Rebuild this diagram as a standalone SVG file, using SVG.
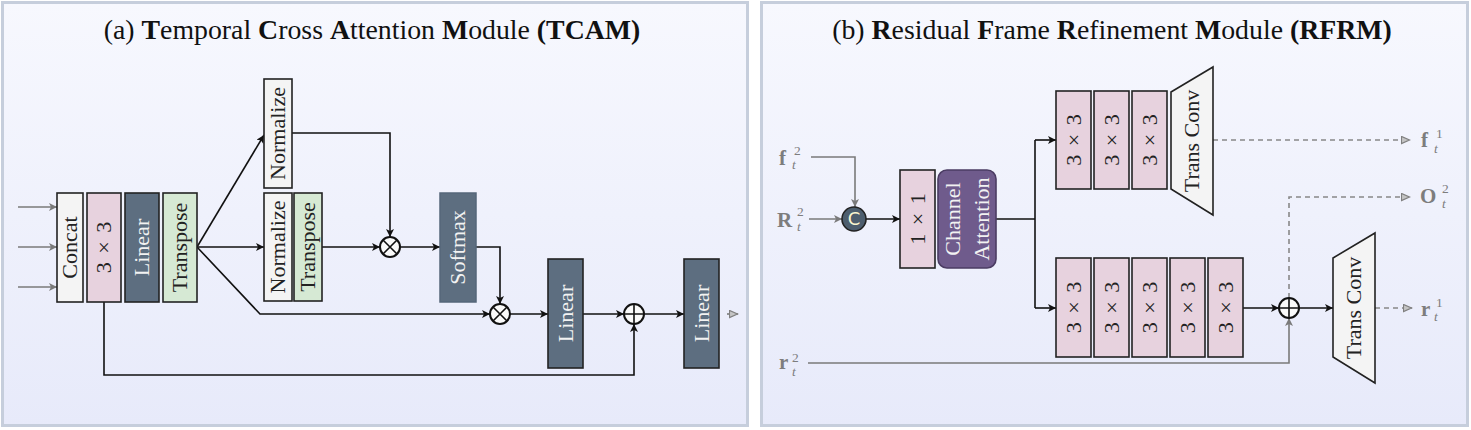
<svg xmlns="http://www.w3.org/2000/svg" width="1471" height="430" viewBox="0 0 1471 430">
<defs>
<linearGradient id="bg" x1="0" y1="0" x2="0" y2="1">
<stop offset="0" stop-color="#f7f8fe"/>
<stop offset="1" stop-color="#e7eafa"/>
</linearGradient>
<marker id="ah" viewBox="0 0 10 10" refX="10" refY="5" markerWidth="10" markerHeight="8" markerUnits="userSpaceOnUse" orient="auto">
<path d="M0,0 L10,5 L0,10 L2.5,5 z" fill="#111"/>
</marker>
<marker id="ahg" viewBox="0 0 10 10" refX="10" refY="5" markerWidth="10" markerHeight="8" markerUnits="userSpaceOnUse" orient="auto">
<path d="M0,0 L10,5 L0,10 L2.5,5 z" fill="#7a7a7a"/>
</marker>
<marker id="ahd" viewBox="0 0 10 10" refX="10" refY="5" markerWidth="10" markerHeight="9" markerUnits="userSpaceOnUse" orient="auto">
<path d="M0.5,1 L9.5,5 L0.5,9 z" fill="#c4c4c4" stroke="#808080" stroke-width="1.3"/>
</marker>
<style>
.panel{fill:url(#bg);stroke:#c6cedc;stroke-width:3}
.title{font-family:"Liberation Serif",serif;font-size:27.8px;fill:#111;text-anchor:middle}
.b{font-weight:bold}
.box{stroke:#222;stroke-width:1.6}
.light{fill:#f4f4f4}
.pink{fill:#e7d2de}
.slate{fill:#5d6e80}
.green{fill:#d6e9d4}
.lbl{font-family:"Liberation Serif",serif;font-size:22px;text-anchor:middle;fill:#222}
.mx{word-spacing:3px}
.wl{fill:#f2f2f2}
.ln{fill:none;stroke:#111;stroke-width:1.6}
.lg{fill:none;stroke:#7a7a7a;stroke-width:1.6}
.ld{fill:none;stroke:#888;stroke-width:1.6;stroke-dasharray:5 4}
.op{fill:#fafafa;stroke:#111;stroke-width:2}
.var{font-family:"Liberation Serif",serif;font-size:21px;font-weight:bold;fill:#7d7d7d}
.sc{font-family:"Liberation Serif",serif;font-size:13.5px;fill:#7d7d7d}
.it{font-style:italic}
</style>
</defs>

<rect class="panel" x="2.5" y="2.5" width="745" height="423"/>
<rect class="panel" x="761.5" y="2.5" width="706" height="423"/>

<text class="title" x="372" y="39">(a) <tspan class="b">T</tspan>emporal <tspan class="b">C</tspan>ross <tspan class="b">A</tspan>ttention <tspan class="b">M</tspan>odule <tspan class="b">(TCAM)</tspan></text>
<text class="title" x="1112" y="39">(b) <tspan class="b">R</tspan>esidual <tspan class="b">F</tspan>rame <tspan class="b">R</tspan>efinement <tspan class="b">M</tspan>odule <tspan class="b">(RFRM)</tspan></text>

<g id="connectors">
<line class="lg" x1="18" y1="207" x2="57" y2="207" marker-end="url(#ahg)"/>
<line class="lg" x1="18" y1="247" x2="57" y2="247" marker-end="url(#ahg)"/>
<line class="lg" x1="18" y1="287" x2="57" y2="287" marker-end="url(#ahg)"/>
<line class="ln" x1="197" y1="247" x2="264" y2="135" marker-end="url(#ah)"/>
<line class="ln" x1="197" y1="247" x2="264" y2="247" marker-end="url(#ah)"/>
<polyline class="ln" points="197,247 260,314 490,314" marker-end="url(#ah)"/>
<polyline class="ln" points="292,133 390,133 390,237" marker-end="url(#ah)"/>
<line class="ln" x1="322" y1="247" x2="380" y2="247" marker-end="url(#ah)"/>
<line class="ln" x1="400" y1="247" x2="440" y2="247" marker-end="url(#ah)"/>
<polyline class="ln" points="476,247 500,247 500,304" marker-end="url(#ah)"/>
<line class="ln" x1="510" y1="314" x2="548" y2="314" marker-end="url(#ah)"/>
<line class="ln" x1="583" y1="314" x2="624" y2="314" marker-end="url(#ah)"/>
<line class="ln" x1="644" y1="314" x2="684" y2="314" marker-end="url(#ah)"/>
<polyline class="ln" points="104,302 104,375 634,375 634,324" marker-end="url(#ah)"/>
<line class="lg" x1="727" y1="314" x2="738" y2="314" marker-end="url(#ahd)"/>

<polyline class="lg" points="811,157 855,157 855,207" marker-end="url(#ahg)"/>
<line class="lg" x1="809" y1="219" x2="842" y2="219" marker-end="url(#ahg)"/>
<line class="ln" x1="866" y1="219" x2="900" y2="219" marker-end="url(#ah)"/>
<line class="ln" x1="996" y1="219" x2="1035" y2="219"/>
<line class="ln" x1="1035" y1="140" x2="1035" y2="308"/>
<line class="ln" x1="1035" y1="140" x2="1056" y2="140" marker-end="url(#ah)"/>
<line class="ln" x1="1035" y1="308" x2="1056" y2="308" marker-end="url(#ah)"/>
<line class="ld" x1="1213" y1="140" x2="1410" y2="140" marker-end="url(#ahd)"/>
<line class="ln" x1="1243" y1="308" x2="1279" y2="308" marker-end="url(#ah)"/>
<line class="ln" x1="1299" y1="308" x2="1333" y2="308" marker-end="url(#ah)"/>
<line class="ld" x1="1375" y1="308" x2="1412" y2="308" marker-end="url(#ahd)"/>
<polyline class="ld" points="1289,298 1289,197 1410,197" marker-end="url(#ahd)"/>
<polyline class="lg" points="808,363 1289,363 1289,318" marker-end="url(#ahg)"/>
</g>

<g id="concat"><rect class="box light" x="57" y="193" width="26" height="109"/><text class="lbl" font-size="23" transform="translate(70,247.5) rotate(-90)" dy="0.33em">Concat</text></g>
<g id="conv3x3-a"><rect class="box pink" x="87" y="193" width="34" height="109"/><text class="lbl mx" font-size="23" transform="translate(104,247.5) rotate(-90)" dy="0.33em">3 × 3</text></g>
<g id="linear-a1"><rect class="box slate" x="125" y="193" width="34" height="109"/><text class="lbl wl" transform="translate(142,247.5) rotate(-90)" dy="0.33em">Linear</text></g>
<g id="transpose-a1"><rect class="box green" x="163" y="193" width="34" height="109"/><text class="lbl" font-size="21.5" transform="translate(180,247.5) rotate(-90)" dy="0.33em">Transpose</text></g>
<g id="normalize-top"><rect class="box light" x="264" y="79" width="28" height="109"/><text class="lbl" font-size="20" transform="translate(278,133.5) rotate(-90)" dy="0.33em">Normalize</text></g>
<g id="normalize-mid"><rect class="box light" x="264" y="193" width="28" height="108"/><text class="lbl" font-size="20" transform="translate(278,247) rotate(-90)" dy="0.33em">Normalize</text></g>
<g id="transpose-a2"><rect class="box green" x="294" y="193" width="28" height="108"/><text class="lbl" font-size="21" transform="translate(308,247) rotate(-90)" dy="0.33em">Transpose</text></g>
<g id="mul-1"><circle class="op" cx="390" cy="247" r="10"/><path class="ln" d="M383,240 L397,254 M397,240 L383,254"/></g>
<g id="softmax"><rect class="slate" x="440" y="193" width="36" height="109" stroke="#55677a" stroke-width="1.5"/><text class="lbl wl" transform="translate(458,247.5) rotate(-90)" dy="0.33em">Softmax</text></g>
<g id="mul-2"><circle class="op" cx="500" cy="314" r="10"/><path class="ln" d="M493,307 L507,321 M507,307 L493,321"/></g>
<g id="linear-a2"><rect class="box slate" x="548" y="259" width="35" height="109"/><text class="lbl wl" transform="translate(565.5,313.5) rotate(-90)" dy="0.33em">Linear</text></g>
<g id="add-a"><circle class="op" cx="634" cy="314" r="10"/><path class="ln" d="M624,314 L644,314 M634,304 L634,324"/></g>
<g id="linear-a3"><rect class="box slate" x="684" y="259" width="35" height="109"/><text class="lbl wl" transform="translate(701.5,313.5) rotate(-90)" dy="0.33em">Linear</text></g>

<g id="label-f2"><text class="var" x="779" y="165">f</text><text class="sc" x="794" y="155">2</text><text class="sc it" x="792" y="169">t</text></g>
<g id="label-R2"><text class="var" x="777" y="227">R</text><text class="sc" x="797" y="216">2</text><text class="sc it" x="797" y="231">t</text></g>
<g id="label-r2"><text class="var" x="779" y="369">r</text><text class="sc" x="792" y="362">2</text><text class="sc it" x="792" y="376">t</text></g>
<g id="label-f1"><text class="var" x="1421" y="147">f</text><text class="sc" x="1436" y="138">1</text><text class="sc it" x="1434" y="153">t</text></g>
<g id="label-O2"><text class="var" x="1420" y="203">O</text><text class="sc" x="1442" y="193">2</text><text class="sc it" x="1442" y="208">t</text></g>
<g id="label-r1"><text class="var" x="1421" y="316">r</text><text class="sc" x="1436" y="307">1</text><text class="sc it" x="1434" y="321">t</text></g>

<g id="concat-c"><circle cx="854" cy="219" r="12" fill="#4d5e6e" stroke="#222" stroke-width="1.6"/><text x="854" y="219" dy="0.36em" text-anchor="middle" font-family="DejaVu Sans, sans-serif" font-size="18" fill="#fbf6cf">C</text></g>
<g id="conv1x1"><rect class="box pink" x="900" y="170" width="35" height="98"/><text class="lbl mx" transform="translate(917.5,219) rotate(-90)" dy="0.33em">1 × 1</text></g>
<g id="channel-attention"><rect x="938" y="170" width="58" height="98" rx="9" fill="#6f5b8c" stroke="#4b3c63" stroke-width="1.6"/><text class="lbl wl" font-size="20" transform="translate(960,219) rotate(-90)">Channel</text><text class="lbl wl" font-size="20" transform="translate(989,219) rotate(-90)">Attention</text></g>

<g id="conv-top-1"><rect class="box pink" x="1056" y="91" width="35" height="98"/><text class="lbl mx" transform="translate(1073.5,140) rotate(-90)" dy="0.33em">3 × 3</text></g>
<g id="conv-top-2"><rect class="box pink" x="1094" y="91" width="35" height="98"/><text class="lbl mx" transform="translate(1111.5,140) rotate(-90)" dy="0.33em">3 × 3</text></g>
<g id="conv-top-3"><rect class="box pink" x="1132" y="91" width="35" height="98"/><text class="lbl mx" transform="translate(1149.5,140) rotate(-90)" dy="0.33em">3 × 3</text></g>
<g id="transconv-top"><polygon class="box light" points="1171,92 1213,67 1213,215 1171,189"/><text class="lbl" font-size="21" transform="translate(1192,141) rotate(-90)" dy="0.33em">Trans Conv</text></g>

<g id="conv-bot-1"><rect class="box pink" x="1056" y="258" width="35" height="99"/><text class="lbl mx" transform="translate(1073.5,307.5) rotate(-90)" dy="0.33em">3 × 3</text></g>
<g id="conv-bot-2"><rect class="box pink" x="1094" y="258" width="35" height="99"/><text class="lbl mx" transform="translate(1111.5,307.5) rotate(-90)" dy="0.33em">3 × 3</text></g>
<g id="conv-bot-3"><rect class="box pink" x="1132" y="258" width="35" height="99"/><text class="lbl mx" transform="translate(1149.5,307.5) rotate(-90)" dy="0.33em">3 × 3</text></g>
<g id="conv-bot-4"><rect class="box pink" x="1170" y="258" width="35" height="99"/><text class="lbl mx" transform="translate(1187.5,307.5) rotate(-90)" dy="0.33em">3 × 3</text></g>
<g id="conv-bot-5"><rect class="box pink" x="1208" y="258" width="35" height="99"/><text class="lbl mx" transform="translate(1225.5,307.5) rotate(-90)" dy="0.33em">3 × 3</text></g>
<g id="add-b"><circle class="op" cx="1289" cy="308" r="10"/><path class="ln" d="M1279,308 L1299,308 M1289,298 L1289,318"/></g>
<g id="transconv-bot"><polygon class="box light" points="1333,258 1375,233 1375,383 1333,357"/><text class="lbl" font-size="21" transform="translate(1354,308) rotate(-90)" dy="0.33em">Trans Conv</text></g>
</svg>
